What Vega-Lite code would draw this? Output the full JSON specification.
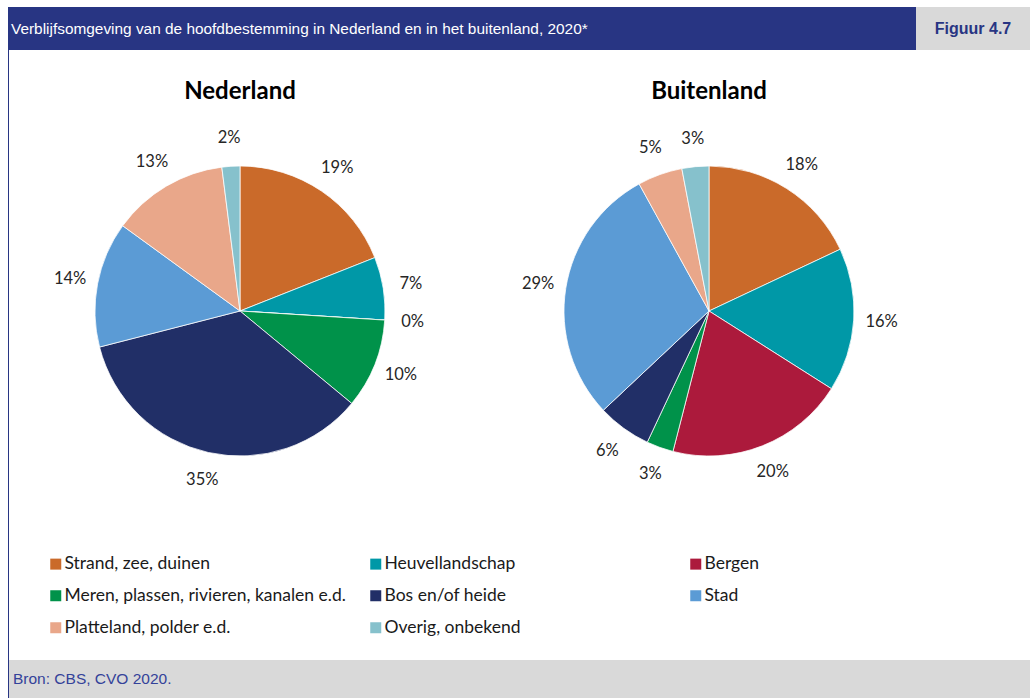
{
  "$schema": "https://vega.github.io/schema/vega-lite/v6.json",
  "padding": {"left": 8, "top": 7, "right": 0, "bottom": 0},
  "autosize": {"type": "pad"},
  "background": "white",
  "spacing": 0,
  "config": {"view": {"stroke": null}, "concat": {"spacing": 0}, "font": "Lato"},
  "resolve": {"scale": {"color": "independent"}, "legend": {"color": "independent"}},
  "vconcat": [
    {
      "spacing": 0,
      "hconcat": [
        {
          "width": 908, "height": 43,
          "view": {"fill": "#283583", "stroke": null},
          "data": {"values": [{"t": "Verblijfsomgeving van de hoofdbestemming in Nederland en in het buitenland, 2020*"}]},
          "mark": {"type": "text", "align": "left", "baseline": "middle", "color": "white", "fontSize": 15.4, "font": "Liberation Sans"},
          "encoding": {"text": {"field": "t"}, "x": {"value": 3}}
        },
        {
          "width": 114, "height": 43,
          "view": {"fill": "#d9d9d9", "stroke": null},
          "data": {"values": [{"t": "Figuur 4.7"}]},
          "mark": {"type": "text", "align": "center", "baseline": "middle", "color": "#283583", "fontWeight": "bold", "fontSize": 16, "font": "Liberation Sans"},
          "encoding": {"text": {"field": "t"}}
        }
      ]
    },
    {
      "spacing": 0,
      "resolve": {"scale": {"color": "independent"}, "legend": {"color": "independent"}},
      "hconcat": [
        {
          "width": 1, "height": 610,
          "view": {"fill": "#283583", "stroke": null},
          "data": {"values": [{}]},
          "mark": "text",
          "encoding": {"text": {"value": ""}}
        },
        {
          "spacing": 0,
          "resolve": {"scale": {"color": "independent"}, "legend": {"color": "independent"}},
          "vconcat": [
            {
              "width": 10, "height": 30,
              "data": {"values": [{}]},
              "mark": "text",
              "encoding": {"text": {"value": ""}}
            },
            {
              "data": {"values": [
                {"land": "Nederland", "categorie": "Strand, zee, duinen", "volgorde": 1, "aandeel": 0.19},
                {"land": "Nederland", "categorie": "Heuvellandschap", "volgorde": 2, "aandeel": 0.07},
                {"land": "Nederland", "categorie": "Bergen", "volgorde": 3, "aandeel": 0.0},
                {"land": "Nederland", "categorie": "Meren, plassen, rivieren, kanalen e.d.", "volgorde": 4, "aandeel": 0.10},
                {"land": "Nederland", "categorie": "Bos en/of heide", "volgorde": 5, "aandeel": 0.35},
                {"land": "Nederland", "categorie": "Stad", "volgorde": 6, "aandeel": 0.14},
                {"land": "Nederland", "categorie": "Platteland, polder e.d.", "volgorde": 7, "aandeel": 0.13},
                {"land": "Nederland", "categorie": "Overig, onbekend", "volgorde": 8, "aandeel": 0.02},
                {"land": "Buitenland", "categorie": "Strand, zee, duinen", "volgorde": 1, "aandeel": 0.18},
                {"land": "Buitenland", "categorie": "Heuvellandschap", "volgorde": 2, "aandeel": 0.16},
                {"land": "Buitenland", "categorie": "Bergen", "volgorde": 3, "aandeel": 0.20},
                {"land": "Buitenland", "categorie": "Meren, plassen, rivieren, kanalen e.d.", "volgorde": 4, "aandeel": 0.03},
                {"land": "Buitenland", "categorie": "Bos en/of heide", "volgorde": 5, "aandeel": 0.06},
                {"land": "Buitenland", "categorie": "Stad", "volgorde": 6, "aandeel": 0.29},
                {"land": "Buitenland", "categorie": "Platteland, polder e.d.", "volgorde": 7, "aandeel": 0.05},
                {"land": "Buitenland", "categorie": "Overig, onbekend", "volgorde": 8, "aandeel": 0.03}
              ]},
              "facet": {
                "column": {
                  "field": "land", "type": "nominal", "sort": ["Nederland", "Buitenland"], "title": null,
                  "header": {"labelFontSize": 24, "labelFontWeight": "bold", "labelFont": "Lato", "labelColor": "black", "labelPadding": 26}
                }
              },
              "spacing": {"column": 7},
              "spec": {
                "width": 462, "height": 330,
                "layer": [
                  {
                    "mark": {"type": "arc", "outerRadius": 145, "stroke": "white", "strokeWidth": 0.75},
                    "encoding": {
                      "theta": {"field": "aandeel", "type": "quantitative", "stack": true},
                      "order": {"field": "volgorde", "type": "quantitative"},
                      "color": {
                        "field": "categorie", "type": "nominal",
                        "scale": {
                          "domain": ["Strand, zee, duinen", "Heuvellandschap", "Bergen", "Meren, plassen, rivieren, kanalen e.d.", "Bos en/of heide", "Stad", "Platteland, polder e.d.", "Overig, onbekend"],
                          "range": ["#CA6A2A", "#0098A7", "#AC1A3C", "#00924A", "#212F67", "#5B9BD5", "#E9A78A", "#86C1CC"]
                        },
                        "legend": {
                          "title": null, "orient": "none", "legendX": 38, "legendY": 409, "direction": "horizontal", "columns": 3, "gridAlign": "all",
                          "columnPadding": 21, "rowPadding": 13, "symbolType": "square", "symbolSize": 121, "symbolStrokeWidth": 0,
                          "labelFontSize": 17.5, "labelFont": "Lato", "labelColor": "#1a1a1a", "labelLimit": 400, "labelOffset": 0
                        }
                      }
                    }
                  },
                  {
                    "mark": {"type": "text", "radius": 173, "fontSize": 16.5, "font": "Lato", "color": "#262626"},
                    "encoding": {
                      "theta": {"field": "aandeel", "type": "quantitative", "stack": true},
                      "order": {"field": "volgorde", "type": "quantitative"},
                      "detail": {"field": "categorie", "type": "nominal"},
                      "text": {"field": "aandeel", "type": "quantitative", "format": ".0%"}
                    }
                  }
                ]
              }
            }
          ]
        }
      ]
    },
    {
      "spacing": 0,
      "hconcat": [
        {
          "width": 1, "height": 38,
          "view": {"fill": "#283583", "stroke": null},
          "data": {"values": [{}]},
          "mark": "text",
          "encoding": {"text": {"value": ""}}
        },
        {
          "width": 1021, "height": 38,
          "view": {"fill": "#d9d9d9", "stroke": null},
          "data": {"values": [{"t": "Bron: CBS, CVO 2020."}]},
          "mark": {"type": "text", "align": "left", "baseline": "middle", "color": "#34429a", "fontSize": 15.5, "font": "Liberation Sans"},
          "encoding": {"text": {"field": "t"}, "x": {"value": 4}}
        }
      ]
    }
  ]
}
